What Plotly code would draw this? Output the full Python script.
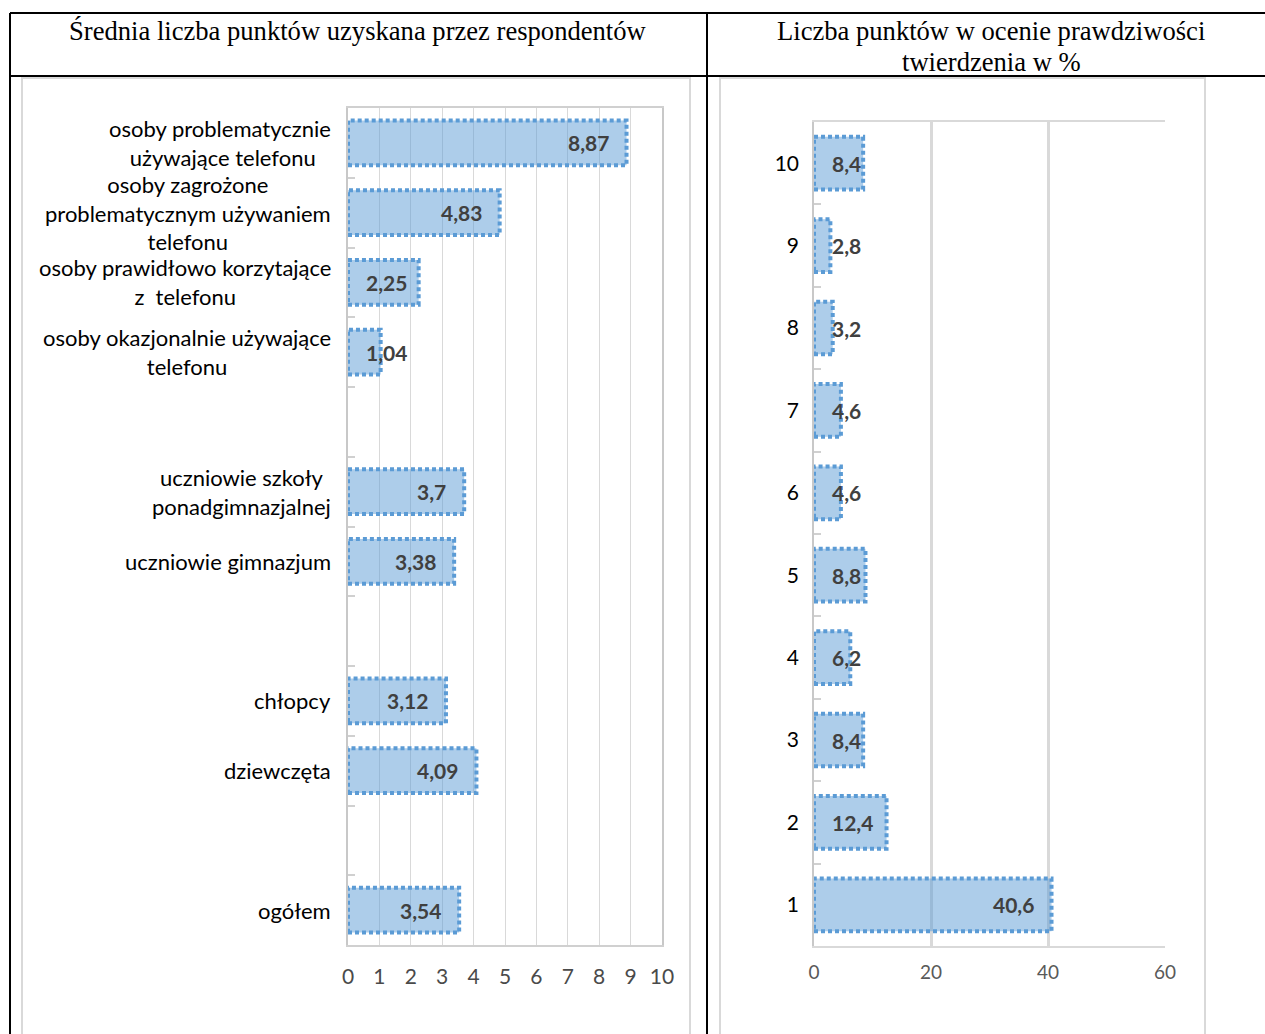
import plotly.graph_objects as go

# ---- data -------------------------------------------------------------
# left panel: mean score per respondent group (bottom -> top, "" = spacer row)
left_categories = [
    "ogółem",
    "",
    "dziewczęta",
    "chłopcy",
    "",
    "uczniowie gimnazjum",
    "uczniowie szkoły<br>ponadgimnazjalnej",
    "",
    "osoby okazjonalnie używające<br>telefonu",
    "osoby prawidłowo korzytające<br>z\u00a0 telefonu",
    "osoby zagrożone<br>problematycznym używaniem<br>telefonu",
    "osoby problematycznie<br> używające telefonu",
]
left_values = [3.54, None, 4.09, 3.12, None, 3.38, 3.7, None, 1.04, 2.25, 4.83, 8.87]
left_ticks = list(range(0, 11))

# right panel: share of answers per number of points (%)
right_categories = ["1", "2", "3", "4", "5", "6", "7", "8", "9", "10"]
right_values = [40.6, 12.4, 8.4, 6.2, 8.8, 4.6, 4.6, 3.2, 2.8, 8.4]
right_ticks = [0, 20, 40, 60]

left_title = "Średnia liczba punktów uzyskana przez respondentów"
right_title = ["Liczba punktów w ocenie prawdziwości", "twierdzenia w %"]

# ---- layout constants -------------------------------------------------
W, H = 1265, 1034
BAR_W = 0.64
FILL = "rgba(91,155,213,0.5)"
EDGE = "#5b9bd5"
LABEL_FONT = "Lato, 'Open Sans', sans-serif"
SERIF = "'Liberation Serif', 'Times New Roman', serif"


def px(x):
    return x / W


def py(y):
    return 1 - y / H


def fmt(v):
    return ("%g" % v).replace(".", ",")


L_DOM = (348, 662)
L_VDOM = (108, 945)
R_DOM = (814, 1165)
R_VDOM = (122, 946)

fig = go.Figure()

left_y = [i + 1 for i in range(len(left_categories))]
lx = [v for v in left_values if v is not None]
ly = [y for y, v in zip(left_y, left_values) if v is not None]

fig.add_trace(go.Bar(
    x=lx, y=ly, orientation="h", width=BAR_W,
    marker=dict(color=FILL, line=dict(width=0)),
    xaxis="x", yaxis="y", hoverinfo="x+y", showlegend=False,
))

right_y = list(range(len(right_categories)))
fig.add_trace(go.Bar(
    x=right_values, y=right_categories, orientation="h", width=BAR_W,
    marker=dict(color=FILL, line=dict(width=0)),
    xaxis="x2", yaxis="y2", hoverinfo="x+y", showlegend=False,
))

shapes = []
annotations = []


def bar_outline_and_label(values, ys, xref, yref, px_per_unit):
    for v, y in zip(values, ys):
        # dotted outline around each bar
        shapes.append(dict(
            type="rect", xref=xref, yref=yref,
            x0=0, x1=v, y0=y - BAR_W / 2, y1=y + BAR_W / 2,
            line=dict(color=EDGE, width=4, dash="4px,3px"),
            fillcolor="rgba(0,0,0,0)", layer="above",
        ))
        # value label: inside end, or pinned near the axis for short bars
        txt = fmt(v)
        tw = 10.5 * len(txt)
        bar_len = v * px_per_unit
        inside = bar_len - 16 - tw >= 16
        annotations.append(dict(
            x=v if inside else 0, y=y, xref=xref, yref=yref,
            text="<b>%s</b>" % txt,
            xanchor="right" if inside else "left", yanchor="middle",
            xshift=-16 if inside else 16, showarrow=False,
            font=dict(family=LABEL_FONT, size=21, color="#404040"),
        ))


bar_outline_and_label(lx, ly, "x", "y", (L_DOM[1] - L_DOM[0]) / 10)
bar_outline_and_label(right_values, right_y, "x2", "y2", (R_DOM[1] - R_DOM[0]) / 60)

# left category labels, centered lines, right-aligned block
for name, y in zip(left_categories, left_y):
    if not name:
        continue
    annotations.append(dict(
        x=px(333), y=y, xref="paper", yref="y", text=name,
        xanchor="right", yanchor="middle", align="center", showarrow=False,
        font=dict(family=LABEL_FONT, size=22, color="#000000"),
    ))

# panel headers
annotations.append(dict(
    x=px(358), y=py(31), xref="paper", yref="paper", text=left_title,
    xanchor="center", yanchor="middle", showarrow=False,
    font=dict(family=SERIF, size=26.6, color="#000000"),
))
for line, yy in zip(right_title, (31, 62)):
    annotations.append(dict(
        x=px(991), y=py(yy), xref="paper", yref="paper", text=line,
        xanchor="center", yanchor="middle", showarrow=False,
        font=dict(family=SERIF, size=26.6, color="#000000"),
    ))

# chart frames (light gray) and table rules (black)
for x0, x1 in [(22, 690), (720, 1205)]:
    shapes.append(dict(type="rect", xref="paper", yref="paper",
                       x0=px(x0), x1=px(x1), y0=py(1050), y1=py(78),
                       line=dict(color="#d9d9d9", width=2), layer="below"))
for x0, y0, x1, y1 in [(10, 13, 1265, 13), (10, 76, 1265, 76),
                       (10, 13, 10, 1034), (707, 13, 707, 1034)]:
    shapes.append(dict(type="line", xref="paper", yref="paper",
                       x0=px(x0), x1=px(x1), y0=py(y0), y1=py(y1),
                       line=dict(color="#000000", width=2)))

fig.update_layout(
    width=W, height=H, autosize=False,
    margin=dict(l=0, r=0, t=0, b=0, pad=0, autoexpand=False),
    paper_bgcolor="#ffffff", plot_bgcolor="#ffffff",
    showlegend=False,
    shapes=shapes, annotations=annotations,
    xaxis=dict(
        domain=[px(L_DOM[0]), px(L_DOM[1])], range=[0, 10],
        tickvals=left_ticks, ticktext=[str(t) for t in left_ticks],
        showgrid=True, gridcolor="#d9d9d9", gridwidth=1,
        zeroline=False, showline=True, linecolor="#d0d0d0", linewidth=1.5,
        mirror=True, ticks="", ticklabelstandoff=12,
        tickfont=dict(family=LABEL_FONT, size=21, color="#4a4a4a"),
        anchor="y", fixedrange=True,
    ),
    yaxis=dict(
        domain=[py(L_VDOM[1]), py(L_VDOM[0])], range=[0.5, len(left_categories) + 0.5],
        tickvals=[i + 0.5 for i in range(1, len(left_categories))],
        showticklabels=False, ticks="inside", ticklen=7, tickcolor="#d0d0d0",
        tickwidth=1.5, showgrid=False, zeroline=False,
        showline=True, linecolor="#c8c8c8", linewidth=1.5, mirror=True,
        anchor="x", fixedrange=True,
    ),
    xaxis2=dict(
        domain=[px(R_DOM[0]), px(R_DOM[1])], range=[0, 60],
        tickvals=right_ticks, showgrid=True, gridcolor="#d9d9d9", gridwidth=3,
        zeroline=False, showline=True, linecolor="#d9d9d9", linewidth=2,
        mirror=True, ticks="", ticklabelstandoff=8,
        tickfont=dict(family=LABEL_FONT, size=19, color="#595959"),
        anchor="y2", fixedrange=True,
    ),
    yaxis2=dict(
        domain=[py(R_VDOM[1]), py(R_VDOM[0])], type="category",
        categoryorder="array", categoryarray=right_categories,
        tickson="boundaries", ticks="inside", ticklen=7, tickcolor="#d0d0d0",
        tickwidth=1.5, showgrid=False, zeroline=False,
        showline=True, linecolor="#c8c8c8", linewidth=1.5,
        ticklabelstandoff=9,
        tickfont=dict(family=LABEL_FONT, size=21, color="#000000"),
        anchor="x2", fixedrange=True,
    ),
)

fig.write_html(
    "out.html",
    config={"displayModeBar": False, "responsive": False},
    post_script="document.body.style.margin='0';",
)
